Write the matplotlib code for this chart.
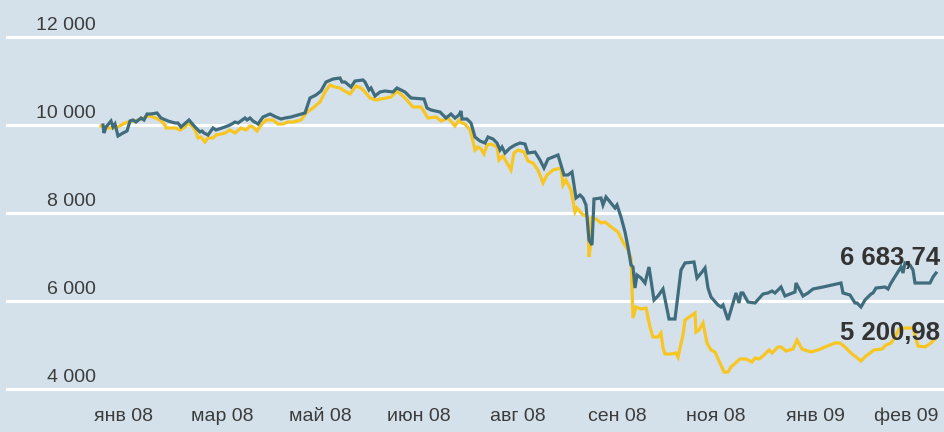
import matplotlib
matplotlib.use("Agg")
import matplotlib.pyplot as plt
import matplotlib.transforms as mtransforms

# trading-day index and index values
teal_t = [3, 4, 6, 11, 13, 15, 18, 23, 27, 30, 33, 36, 41, 44, 47, 51, 57, 61, 68, 75,
          78, 81, 89, 95, 100, 102, 104, 108, 113, 116, 122, 125, 130, 135, 138, 145, 147, 150, 153, 158,
          163, 170, 176, 181, 185, 191, 198, 205, 210, 216, 221, 226, 233, 240, 242, 245, 251, 255, 263, 265,
          269, 271, 275, 280, 285, 293, 297, 305, 311, 324, 327, 331, 340, 346, 351, 355, 359, 361, 362, 367,
          371, 375, 380, 385, 388, 393, 397, 400, 402, 405, 410, 415, 420, 425, 428, 435, 440, 444, 448, 458,
          464, 468, 472, 476, 480, 483, 486, 489, 492, 494, 501, 503, 506, 515, 517, 521, 525, 528, 531, 533,
          535, 537, 541, 545, 549, 554, 558, 563, 569, 575, 581, 585, 594, 597, 602, 605, 608, 611, 618, 621,
          623, 628, 633, 636, 639, 641, 643, 648, 655, 663, 668, 672, 675, 681, 685, 695, 696, 703, 708, 713,
          723, 741, 743, 750, 755, 757, 761, 765, 771, 773, 776, 785, 788, 791, 796, 801, 803, 805, 810, 813,
          815, 830, 833, 836]
teal_v = [10000, 9818, 9955, 10091, 9955, 10023, 9750, 9818, 9864, 10091, 10114, 10068, 10159, 10114, 10250, 10250, 10273, 10159, 10091, 10045,
          10045, 9955, 10114, 9955, 9841, 9864, 9818, 9773, 9932, 9886, 9932, 9955, 10000, 10068, 10045, 10159, 10114, 10159, 10091, 10023,
          10182, 10250, 10182, 10136, 10159, 10182, 10227, 10273, 10614, 10682, 10773, 10977, 11045, 11068, 10977, 10977, 10864, 11000, 11023, 10977,
          10795, 10841, 10659, 10750, 10773, 10750, 10841, 10750, 10614, 10591, 10386, 10341, 10295, 10159, 10250, 10159, 10227, 10318, 10136, 10136,
          10045, 9727, 9636, 9591, 9727, 9682, 9591, 9432, 9500, 9364, 9477, 9545, 9591, 9568, 9364, 9386, 9205, 9023, 9227, 9318,
          8864, 8864, 8932, 8341, 8409, 8341, 8182, 7386, 7273, 8318, 8341, 8182, 8364, 8114, 8182, 7909, 7568, 7227, 6818, 6773,
          6295, 6591, 6523, 6409, 6773, 6023, 6114, 6273, 5591, 5591, 6705, 6864, 6886, 6523, 6659, 6750, 6295, 6091, 5909, 5864,
          5909, 5568, 5955, 6182, 5955, 6182, 6182, 5977, 5955, 6159, 6182, 6227, 6182, 6318, 6114, 6205, 6409, 6114, 6182, 6273,
          6318, 6409, 6182, 6136, 5955, 5955, 5864, 6023, 6159, 6182, 6295, 6318, 6273, 6409, 6591, 6773, 6636, 6864, 6818, 6705,
          6409, 6409, 6545, 6636]

yellow_t = [1, 8, 13, 16, 23, 28, 35, 41, 48, 53, 60, 65, 66, 71, 76, 80, 85, 88, 93, 96,
            98, 101, 105, 108, 113, 116, 121, 125, 130, 135, 141, 146, 150, 153, 157, 161, 166, 173, 178, 183,
            188, 193, 201, 206, 213, 220, 225, 230, 235, 240, 243, 250, 256, 261, 265, 270, 276, 281, 291, 297,
            305, 313, 321, 328, 336, 341, 348, 355, 359, 362, 365, 370, 372, 375, 378, 381, 384, 387, 391, 397,
            399, 403, 407, 411, 414, 418, 424, 428, 433, 438, 443, 447, 453, 461, 463, 466, 471, 475, 477, 483,
            485, 488, 489, 491, 492, 496, 501, 505, 510, 518, 523, 528, 531, 533, 536, 541, 546, 550, 553, 558,
            561, 563, 565, 571, 576, 578, 583, 585, 595, 596, 599, 603, 607, 611, 615, 620, 624, 628, 631, 640,
            646, 652, 655, 659, 663, 669, 672, 678, 681, 686, 693, 697, 702, 711, 718, 725, 735, 740, 745, 751,
            761, 766, 774, 782, 786, 791, 795, 799, 805, 813, 818, 825, 831, 836]
yellow_v = [9977, 9932, 9932, 9932, 10023, 10068, 10091, 10136, 10205, 10182, 10114, 10000, 9932, 9932, 9932, 9886, 9955, 10045, 9955, 9841,
            9705, 9727, 9614, 9705, 9705, 9773, 9795, 9818, 9886, 9818, 9932, 9886, 9977, 9955, 9864, 10000, 10114, 10114, 10023, 10023,
            10068, 10068, 10114, 10273, 10386, 10523, 10750, 10909, 10864, 10841, 10795, 10705, 10886, 10841, 10750, 10614, 10568, 10591, 10636, 10773,
            10614, 10409, 10409, 10159, 10182, 10091, 10159, 9977, 10114, 10045, 10023, 9886, 9727, 9432, 9500, 9455, 9341, 9545, 9568, 9500,
            9205, 9295, 9136, 8977, 9364, 9432, 9386, 9182, 9136, 8977, 8682, 8864, 8977, 9023, 8636, 8750, 8523, 8023, 8114, 7955,
            7955, 7886, 7000, 7341, 7886, 7864, 7773, 7795, 7705, 7568, 7341, 7159, 6977, 5614, 5864, 5818, 5841, 5409, 5182, 5182,
            5273, 4932, 4795, 4795, 4818, 4727, 5227, 5568, 5727, 5295, 5341, 5500, 5045, 4886, 4841, 4591, 4386, 4386, 4500, 4682,
            4682, 4614, 4705, 4682, 4750, 4886, 4818, 4955, 4955, 4864, 4909, 5114, 4909, 4841, 4886, 4955, 5045, 5045, 4955, 4818,
            4636, 4750, 4886, 4909, 5000, 5045, 5182, 5364, 5386, 5386, 4977, 4955, 5045, 5159]

month_t = [23.5, 122, 220, 319, 418, 517, 616, 715, 806]
month_labels = ["янв 08", "мар 08", "май 08", "июн 08", "авг 08", "сен 08", "ноя 08", "янв 09", "фев 09"]
y_ticks = [4000, 6000, 8000, 10000, 12000]
y_labels = ["4 000", "6 000", "8 000", "10 000", "12 000"]
last_labels = ["6 683,74", "5 200,98"]
last_label_v = [6980, 5280]

BG = "#d5e1ea"
TEAL = "#3f6d7e"
YELLOW = "#f7c623"
TXT = "#3c3c3c"

plt.rcParams['font.family'] = ['Liberation Sans', 'DejaVu Sans']

fig = plt.figure(figsize=(9.45, 4.32), dpi=100)
fig.patch.set_facecolor(BG)
ax = fig.add_axes([6 / 945, 32 / 432, 939 / 945, 370 / 432])
ax.set_facecolor(BG)
ax.set_xlim(-94, 845)
ax.set_ylim(3750, 12159)
for s in ax.spines.values():
    s.set_visible(False)

for v in y_ticks:
    ax.axhline(v, color="white", lw=2.2, zorder=1)
ax.set_yticks([])

trans = mtransforms.blended_transform_factory(ax.transAxes, ax.transData)
for v, lab in zip(y_ticks, y_labels):
    ax.annotate(lab, xy=(90 / 939, v), xycoords=trans, xytext=(0, 2.5), textcoords="offset points",
                ha="right", va="bottom", fontsize=14, color=TXT)

ax.plot(yellow_t, yellow_v, color=YELLOW, lw=2.3, zorder=3, solid_joinstyle="miter")
ax.plot(teal_t, teal_v, color=TEAL, lw=2.3, zorder=4, solid_joinstyle="miter")

ax.set_xticks(month_t)
ax.set_xticklabels(month_labels, fontsize=14, color=TXT)
ax.tick_params(axis="x", length=0, pad=5.5)

for lab, v in zip(last_labels, last_label_v):
    ax.text(840, v, lab, ha="right", va="center", fontsize=18.5, fontweight="bold", color="#333333", zorder=5)

fig.savefig("out.png", dpi=100, facecolor=BG)
